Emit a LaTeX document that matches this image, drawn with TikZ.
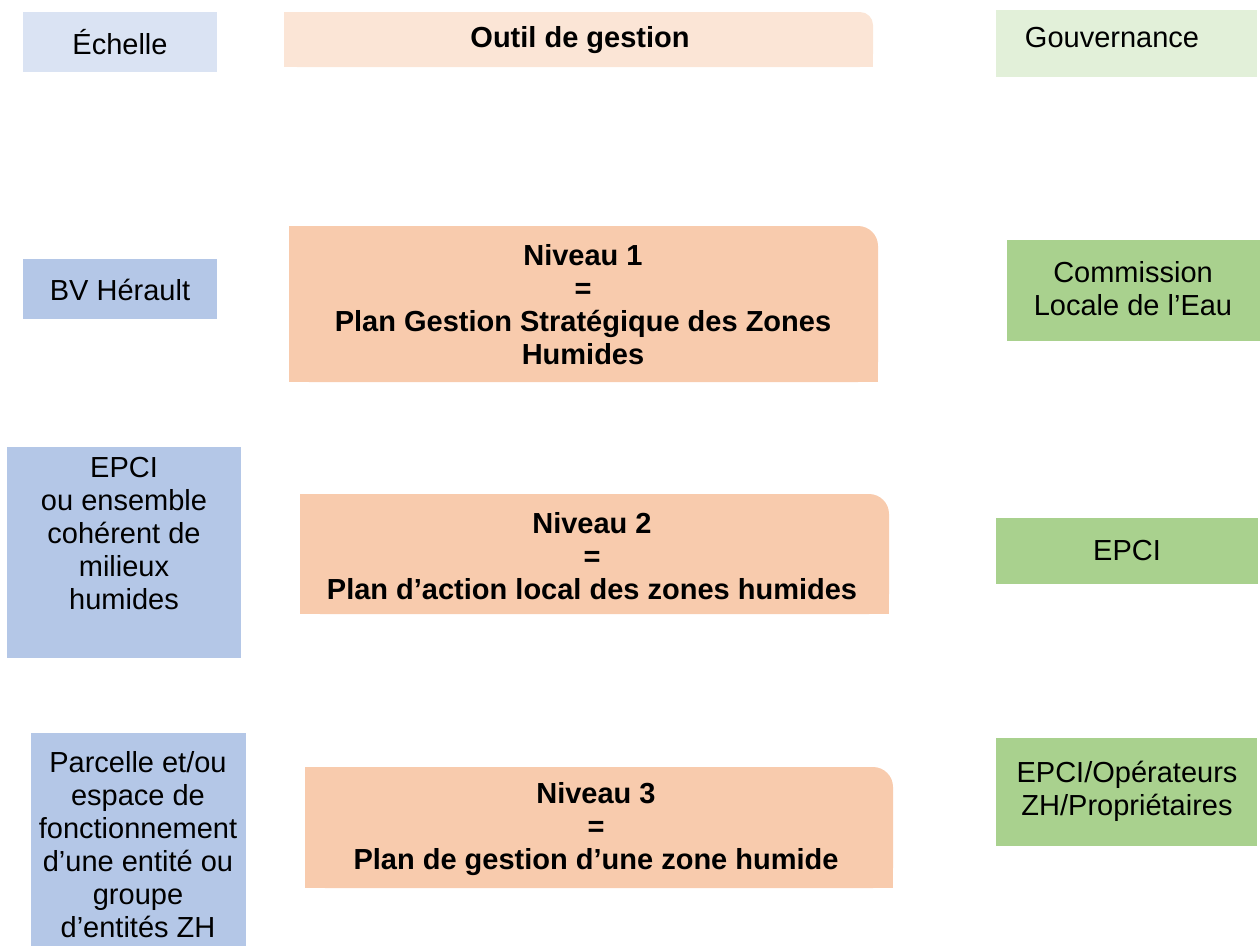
\documentclass[tikz,border=0pt]{standalone}
\usepackage{fontspec}
\setmainfont{Liberation Sans}
\definecolor{blueL}{HTML}{DAE3F3}
\definecolor{blueD}{HTML}{B4C7E7}
\definecolor{peachL}{HTML}{FBE5D6}
\definecolor{peachD}{HTML}{F8CBAD}
\definecolor{greenL}{HTML}{E2F0D9}
\definecolor{greenD}{HTML}{A9D18E}
\tikzset{
  boxarea/.style={draw=none, fill=none, inner sep=0, outer sep=0},
  txt/.style={inner sep=0, align=center, font=\fontsize{29}{33}\selectfont},
  btxt/.style={txt, font=\fontsize{29}{33}\selectfont\bfseries},
}
\begin{document}
\begin{tikzpicture}[x=1pt,y=-1pt]
\useasboundingbox (0,0) rectangle (1260,946);
% helper: rectangle box areas as nodes
\node[boxarea, fill=blueL, minimum width=194pt, minimum height=60pt] (ech) at (120,42) {};
\node[boxarea, minimum width=589pt, minimum height=55pt] (out) at (578.5,39.5) {};
\node[boxarea, fill=greenL, minimum width=261pt, minimum height=67pt] (gou) at (1126.5,43.5) {};
\node[boxarea, fill=blueD, minimum width=194pt, minimum height=60pt] (bvh) at (120,289) {};
\node[boxarea, minimum width=589pt, minimum height=156pt] (n1) at (583.5,304) {};
\node[boxarea, fill=greenD, minimum width=253pt, minimum height=101pt] (cle) at (1133.5,290.5) {};
\node[boxarea, fill=blueD, minimum width=234pt, minimum height=211pt] (epl) at (124,552.5) {};
\node[boxarea, minimum width=589pt, minimum height=120pt] (n2) at (594.5,554) {};
\node[boxarea, fill=greenD, minimum width=262pt, minimum height=66pt] (epr) at (1127,551) {};
\node[boxarea, fill=blueD, minimum width=215pt, minimum height=213pt] (par) at (138.5,839.5) {};
\node[boxarea, minimum width=588pt, minimum height=121pt] (n3) at (599,827.5) {};
\node[boxarea, fill=greenD, minimum width=261pt, minimum height=108pt] (ope) at (1126.5,792) {};
% peach boxes with a rounded top-right corner
\fill[peachL, rounded corners=13pt] (out.south west) rectangle (out.north east);
\fill[peachL] (out.south west) rectangle ([xshift=-20pt]out.north east);
\fill[peachL] (out.south east) rectangle ([xshift=-25pt,yshift=25pt]out.south east);
\foreach \n in {n1,n2,n3}{
  \fill[peachD, rounded corners=20pt] (\n.south west) rectangle (\n.north east);
  \fill[peachD] (\n.south west) rectangle ([xshift=-30pt]\n.north east);
  \fill[peachD] (\n.south east) rectangle ([xshift=-35pt,yshift=35pt]\n.south east);
}
% texts
\node[txt] (ech-t) at (120,42) {Échelle};
\node[btxt] (out-t) at (580,40) {Outil de gestion};
\node[txt] (gou-t) at (1112,38) {Gouvernance};
\node[txt] (bvh-t) at (120,290) {BV Hérault};
\node[btxt] (n1-t) at (583,305) {Niveau 1\\=\\Plan Gestion Stratégique des Zones\\Humides};
\node[txt] (cle-t) at (1133,289) {Commission\\Locale de l’Eau};
\node[txt] (epl-t) at (124,534) {EPCI\\ou ensemble\\cohérent de\\milieux\\humides};
\node[btxt] (n2-t) at (592,556) {Niveau 2\\=\\Plan d’action local des zones humides};
\node[txt] (epr-t) at (1127,551) {EPCI};
\node[txt] (par-t) at (138,845) {Parcelle et/ou\\espace de\\fonctionnement\\d’une entité ou\\groupe\\d’entités ZH};
\node[btxt] (n3-t) at (596,829) {Niveau 3\\=\\Plan de gestion d’une zone humide};
\node[txt] (ope-t) at (1127,791) {EPCI/Opérateurs\\ZH/Propriétaires};
\end{tikzpicture}
\end{document}
